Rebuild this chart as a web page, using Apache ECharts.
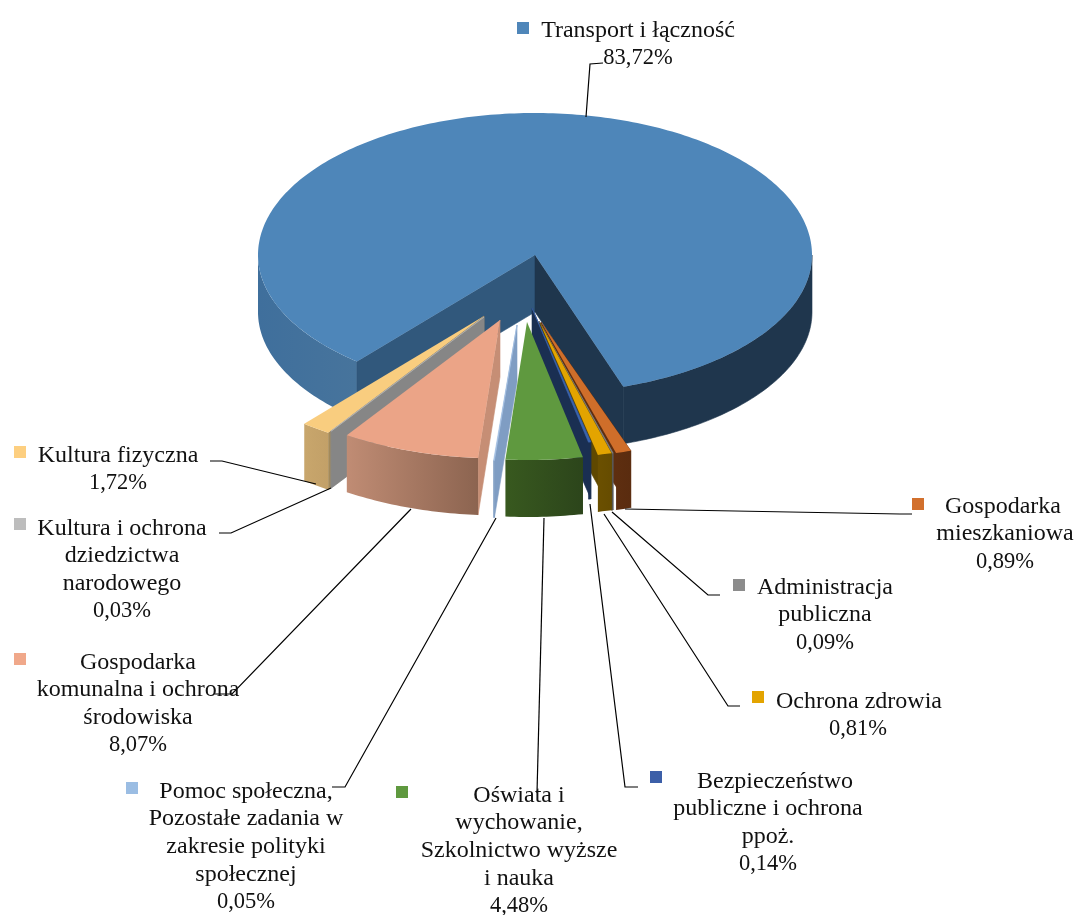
<!DOCTYPE html>
<html><head><meta charset="utf-8">
<style>html,body{margin:0;padding:0;background:#fff}#c{width:1077px;height:915px}</style>
<script src="https://cdn.jsdelivr.net/npm/echarts@6/dist/echarts.min.js"></script>
</head><body><div id="c"></div>
<script>
// ---- data ----
const categories = [
  'Transport i łączność',
  'Gospodarka\nmieszkaniowa',
  'Administracja\npubliczna',
  'Ochrona zdrowia',
  'Bezpieczeństwo\npubliczne i ochrona\nppoż.',
  'Oświata i\nwychowanie,\nSzkolnictwo wyższe\ni nauka',
  'Pomoc społeczna,\nPozostałe zadania w\nzakresie polityki\nspołecznej',
  'Gospodarka\nkomunalna i ochrona\nśrodowiska',
  'Kultura i ochrona\ndziedzictwa\nnarodowego',
  'Kultura fizyczna'
];
const shares = [83.72, 0.89, 0.09, 0.81, 0.14, 4.48, 0.05, 8.07, 0.03, 1.72];

// ---- styles ----
const topColors  = ['#4e86b9','#cf6e2a','#7f7f7f','#e3a400','#3b63ad','#5f993f','#a3c0e2','#eba487','#b5b5b5','#f9cd7f'];
const keyColors  = ['#4f86b9','#d2702d','#8c8c8c','#e3a400','#3c5fa8','#5f993f','#9bbde3','#f0a88a','#bdbdbd','#fdcf80'];
const rimColors  = [['#3f6f9c','#47749c'],['#5e2e10','#5a2c0f'],['#5a5a5a','#5a5a5a'],['#6b5000','#664c00'],['#1a2f52','#1a2f52'],['#38591f','#2c451b'],['#7f9dc3','#7f9dc3'],['#c08c74','#8c6450'],['#868686','#868686'],['#c8a66c','#c2a068']];
const wallColors = ['#31587c','#5e2e10','#5a5a5a','#5f4800','#1a2f52',null,'#7f9dc3','#c68e75','#868686','#a48a5a'];
const transportRightWall = '#1f364d';
const transportRightRim = '#1f364d';

// ---- 3D pie layout ----
const CX = 535, CY = 255, RX = 277, RY_BACK = 142, RY_FRONT = 139, DEPTH = 57, START = 220;
// per slice explosion: apex shift and rim shift (dx, dy)
const apexShift = [[0,0],[6,67],[4,66],[5,68],[-3,53],[-8,67],[-18,70],[-35,65],[-51,62],[-51,61]];
const rimShift  = [[0,0],[7.5,64],[4.5,64],[4.5,64],[-2.5,51],[-8,66],[-19,67],[-34.5,64.5],[-50,60.5],[-52.7,62.3]];
const paintOrder = [0, 9, 8, 7, 6, 1, 2, 3, 4, 5];

const total = shares.reduce((a, b) => a + b, 0);
const startAngles = [];
shares.reduce((acc, v, i) => { startAngles[i] = acc; return acc + v / total * 360; }, START);

function arc(i, a0, a1, yShift) {
  const pts = [], n = Math.max(1, Math.ceil(Math.abs(a1 - a0)));
  for (let k = 0; k <= n; k++) {
    const t = (a0 + (a1 - a0) * k / n) * Math.PI / 180;
    const c = Math.cos(t);
    pts.push([CX + rimShift[i][0] + RX * Math.sin(t), CY + rimShift[i][1] - (c > 0 ? RY_BACK : RY_FRONT) * c + yShift]);
  }
  return pts;
}
function hGrad(c) {
  return { type:'linear', x:0, y:0, x2:1, y2:0, colorStops:[{offset:0,color:c[0]},{offset:1,color:c[1]}] };
}
function poly(points, fill, thin) {
  return { type:'polygon', shape:{ points }, style:{ fill, stroke: thin ? fill : null, lineWidth: thin ? 0.6 : 0 } };
}
function wall(i, angle, color) {
  const apex = [CX + apexShift[i][0], CY + apexShift[i][1]];
  const rim = arc(i, angle, angle, 0)[0];
  return poly([apex, rim, [rim[0], rim[1] + DEPTH], [apex[0], apex[1] + DEPTH]], color, true);
}
function rimPart(i, a0, a1, fill, thin) {
  const top = arc(i, a0, a1, 0), bot = arc(i, a0, a1, DEPTH).reverse();
  return poly(top.concat(bot), fill, thin);
}
function renderSlice(params, api) {
  const i = api.value(0);
  const a0 = startAngles[i], a1 = a0 + api.value(1) / total * 360;
  const apex = [CX + apexShift[i][0], CY + apexShift[i][1]];
  const thin = a1 - a0 < 2;
  const children = [];
  if (i === 0) {
    children.push(rimPart(i, a0, 270, hGrad(rimColors[0])));
    children.push(rimPart(i, 450, a1, transportRightRim, true));
    children.push(wall(i, a0, wallColors[0]));
    children.push(wall(i, a1, transportRightWall));
  } else {
    const mid = (a0 + a1) / 2;
    if (mid > 180 && wallColors[i]) children.push(wall(i, a0, wallColors[i]));
    if (mid < 180 - 5 && wallColors[i]) children.push(wall(i, a1, wallColors[i]));
    children.push(rimPart(i, a0, a1, hGrad(rimColors[i]), thin));
  }
  children.push(poly([apex].concat(arc(i, a0, a1, 0)), topColors[i], thin));
  return { type:'group', children };
}

// ---- labels ----
const keyPos   = [[517,22],[912,498],[733,579],[752,691],[650,771],[396,786],[126,782],[14,653],[14,518],[14,446]];
const firstCx  = [638,1003,825,859,775,519,246,138,122,118];
const otherCx  = [638,1005,825,858,768,519,246,138,122,118];
const firstY   = [30.5,506.5,587.5,701.5,781.5,795.5,791.5,662.5,528.5,455.5];
const lineStep = 27.6;
const leaders  = [
  [[603,63],[590,64],[586,117]],
  [[912,514],[900,514],[625,509]],
  [[720,595],[708,595],[612,512]],
  [[740,706],[728,706],[604,514]],
  [[638,787],[625,787],[590,504]],
  [[537,793],[544,518]],
  [[332,787],[345,787],[496,518]],
  [[215,694],[232,694],[411,509]],
  [[219,533],[231,533],[331,488]],
  [[210,461],[222,461],[316,484]]
];
function pct(v) { return v.toFixed(2).replace('.', ',') + '%'; }
function renderLabel(params, api) {
  const i = api.value(0);
  const names = categories[i].split('\n');
  const lines = names.concat(pct(api.value(1)));
  const children = [
    { type:'polyline', shape:{ points: leaders[i] }, style:{ fill:null, stroke:'#000', lineWidth:1.2 } },
    { type:'rect', shape:{ x:keyPos[i][0], y:keyPos[i][1], width:12, height:12 }, style:{ fill:keyColors[i] } }
  ];
  lines.forEach((t, k) => children.push({
    type:'text',
    style:{ text:t, x: k === 0 ? firstCx[i] : otherCx[i], y: firstY[i] + k * lineStep,
            fill:'#111', font:(k < names.length ? '24' : '22.5') + 'px "Liberation Serif"', textAlign:'center', textVerticalAlign:'middle' }
  }));
  return { type:'group', children };
}

const chart = echarts.init(document.getElementById('c'), null, { renderer:'canvas' });
chart.setOption({
  animation:false,
  backgroundColor:'#fff',
  series:[
    { type:'custom', coordinateSystem:'none', silent:true, z:2, renderItem:renderSlice,
      data: paintOrder.map(i => [i, shares[i]]) },
    { type:'custom', coordinateSystem:'none', silent:true, z:3, renderItem:renderLabel,
      data: shares.map((v, i) => [i, v]) }
  ]
});
</script></body></html>
